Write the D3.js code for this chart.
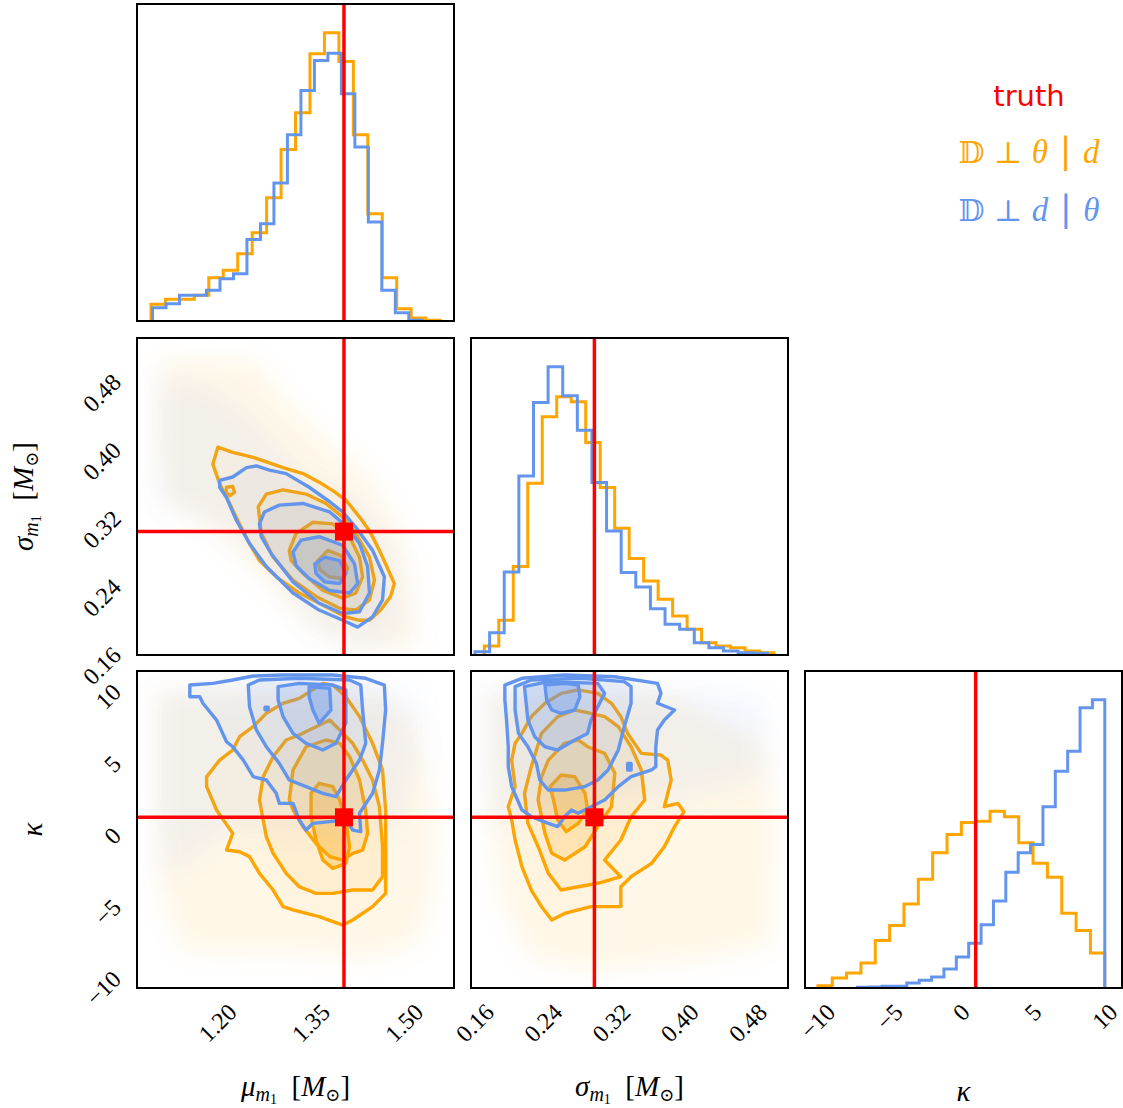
<!DOCTYPE html>
<html>
<head>
<meta charset="utf-8">
<script src="https://cdn.jsdelivr.net/npm/d3@7"></script>
<style>
  body { margin: 0; background: #fff; }
  svg { display: block; }
  text { white-space: pre; }
</style>
</head>
<body>
<svg id="chart" width="1123" height="1108"></svg>
<script>
// colours used by the two runs + truth
var orange = "#ffa500";
var blue = "#6495ed";
var red = "#ff0000";

// axis ranges and ticks
var muDomain = [1.07, 1.58];
var sigmaDomain = [0.1553, 0.527];
var kappaDomain = [-10.9, 11.2];
var muTicks = [1.20, 1.35, 1.50];
var sigmaTicks = [0.16, 0.24, 0.32, 0.40, 0.48];
var kappaTicks = [-10, -5, 0, 5, 10];

var truthMu = 1.403;
var truthSigma = 0.30;
var truthKappa = 1.0;

// 1D histograms (20 bins each, [lo, hi] range per run)
var muRangeOrange = [1.0925, 1.5576];
var muCountsOrange = [50, 65, 65, 77, 130, 152, 202, 265, 370, 515, 625, 802, 865, 779, 559, 322, 130, 37, 9, 2];
var muRangeBlue = [1.095, 1.529];
var muCountsBlue = [40, 52, 77, 77, 92, 127, 142, 245, 292, 414, 559, 692, 782, 804, 682, 522, 297, 92, 25, 2];

var sigmaRangeOrange = [0.1709, 0.5106];
var sigmaCountsOrange = [27, 104, 265, 515, 714, 774, 759, 637, 502, 380, 289, 222, 167, 117, 77, 37, 27, 22, 12, 7];
var sigmaRangeBlue = [0.1600, 0.5028];
var sigmaCountsBlue = [10, 67, 249, 537, 757, 864, 777, 674, 517, 372, 247, 204, 139, 92, 77, 37, 22, 12, 7, 5];

var kappaRangeOrange = [-10, 10];
var kappaCountsOrange = [7, 30, 45, 75, 143, 188, 253, 327, 407, 462, 498, 502, 532, 515, 437, 375, 333, 225, 173, 105];
var kappaRangeBlue = [-7.25, 10];
var kappaCountsBlue = [2, 3, 5, 5, 15, 23, 33, 57, 93, 135, 190, 262, 348, 407, 432, 545, 652, 712, 843, 867];

// 2D panels: contour rings (outer -> inner) and the region covered by scatter points
var muSigmaOrangeLevels = [
  [[1.200,0.399],[1.224,0.393],[1.257,0.387],[1.305,0.375],[1.337,0.368],[1.363,0.358],[1.385,0.348],[1.406,0.337],[1.428,0.317],[1.444,0.301],[1.460,0.278],[1.470,0.262],[1.484,0.239],[1.478,0.224],[1.462,0.208],[1.444,0.196],[1.428,0.196],[1.406,0.200],[1.374,0.212],[1.331,0.228],[1.294,0.247],[1.267,0.266],[1.251,0.286],[1.235,0.309],[1.219,0.333],[1.203,0.356],[1.192,0.379]],
  [[1.214,0.352],[1.224,0.353],[1.227,0.346],[1.219,0.342],[1.213,0.346]],
  [[1.265,0.329],[1.278,0.344],[1.305,0.349],[1.342,0.344],[1.374,0.333],[1.401,0.317],[1.422,0.298],[1.444,0.270],[1.452,0.243],[1.444,0.220],[1.422,0.208],[1.396,0.210],[1.358,0.224],[1.321,0.243],[1.289,0.270],[1.270,0.298]],
  [[1.315,0.278],[1.326,0.298],[1.353,0.311],[1.385,0.309],[1.412,0.294],[1.428,0.270],[1.433,0.247],[1.422,0.228],[1.401,0.222],[1.369,0.231],[1.337,0.251],[1.318,0.266]],
  [[1.361,0.266],[1.377,0.278],[1.398,0.272],[1.409,0.257],[1.401,0.245],[1.380,0.247],[1.364,0.255]]
];
var muSigmaOrangeRank = [0, 1, 1, 2, 3];
var muSigmaBlueLevels = [
  [[1.203,0.360],[1.224,0.364],[1.246,0.375],[1.262,0.377],[1.283,0.372],[1.310,0.368],[1.347,0.352],[1.380,0.335],[1.401,0.323],[1.422,0.305],[1.449,0.278],[1.468,0.247],[1.465,0.220],[1.449,0.200],[1.425,0.188],[1.401,0.196],[1.363,0.208],[1.321,0.228],[1.278,0.259],[1.251,0.286],[1.230,0.313],[1.214,0.340],[1.203,0.352]],
  [[1.267,0.309],[1.275,0.323],[1.299,0.331],[1.337,0.333],[1.380,0.323],[1.406,0.307],[1.428,0.286],[1.441,0.259],[1.444,0.228],[1.428,0.206],[1.401,0.204],[1.363,0.216],[1.321,0.241],[1.286,0.274],[1.270,0.294]],
  [[1.321,0.276],[1.334,0.290],[1.363,0.294],[1.401,0.284],[1.420,0.262],[1.425,0.239],[1.412,0.228],[1.380,0.231],[1.347,0.245],[1.326,0.260]],
  [[1.356,0.262],[1.372,0.270],[1.396,0.266],[1.406,0.251],[1.396,0.239],[1.372,0.241],[1.358,0.251]]
];
var muSigmaBlueRank = [0, 1, 2, 3];
var muSigmaOrangeCloud = [[1.107,0.500],[1.257,0.502],[1.305,0.457],[1.385,0.399],[1.438,0.372],[1.492,0.301],[1.513,0.224],[1.519,0.165],[1.438,0.161],[1.358,0.185],[1.278,0.243],[1.198,0.301],[1.118,0.333],[1.102,0.418]];
var muSigmaBlueCloud = [[1.102,0.477],[1.171,0.477],[1.251,0.438],[1.331,0.372],[1.438,0.333],[1.492,0.262],[1.502,0.185],[1.438,0.161],[1.358,0.185],[1.278,0.262],[1.198,0.309],[1.107,0.333],[1.102,0.418]];

var muKappaOrangeLevels = [
  [[1.182,3.83],[1.203,4.99],[1.224,5.69],[1.235,6.62],[1.257,7.32],[1.278,8.25],[1.305,8.95],[1.331,9.29],[1.369,10.34],[1.385,10.22],[1.406,9.41],[1.428,8.02],[1.449,6.16],[1.465,4.30],[1.470,1.51],[1.470,-1.28],[1.470,-4.30],[1.449,-5.23],[1.417,-6.16],[1.401,-6.51],[1.363,-5.93],[1.321,-5.46],[1.305,-5.23],[1.289,-4.07],[1.267,-2.91],[1.251,-1.74],[1.235,-1.40],[1.214,-1.28],[1.224,-0.12],[1.198,1.51],[1.182,3.14]],
  [[1.267,2.21],[1.273,3.83],[1.289,5.23],[1.310,6.39],[1.331,6.74],[1.358,7.32],[1.380,7.78],[1.396,7.09],[1.417,6.16],[1.433,4.99],[1.449,3.60],[1.460,1.74],[1.465,-1.05],[1.465,-3.14],[1.449,-4.07],[1.417,-4.07],[1.385,-4.30],[1.358,-4.30],[1.331,-3.84],[1.310,-2.91],[1.289,-1.51],[1.278,-0.35],[1.273,0.81]],
  [[1.315,2.21],[1.321,4.30],[1.342,5.92],[1.374,6.39],[1.396,6.16],[1.412,5.23],[1.428,3.60],[1.438,1.51],[1.441,-0.12],[1.433,-1.28],[1.417,-1.51],[1.401,-1.98],[1.380,-1.74],[1.358,-0.82],[1.337,0.35],[1.321,1.51]],
  [[1.350,2.67],[1.363,3.37],[1.385,3.14],[1.396,2.21],[1.406,0.81],[1.412,-1.05],[1.406,-2.21],[1.385,-2.56],[1.369,-1.98],[1.358,-0.58],[1.350,1.04]]
];
var muKappaOrangeRank = [0, 1, 2, 3];
var muKappaBlueLevels = [
  [[1.155,10.22],[1.192,10.34],[1.224,10.57],[1.257,10.85],[1.305,10.92],[1.385,10.92],[1.438,10.69],[1.468,10.22],[1.470,8.48],[1.465,6.16],[1.460,4.30],[1.449,2.67],[1.428,1.28],[1.430,0.00],[1.417,0.11],[1.406,0.81],[1.380,0.70],[1.353,0.58],[1.342,0.11],[1.331,0.81],[1.321,1.97],[1.299,1.97],[1.294,2.67],[1.278,3.60],[1.257,3.83],[1.241,4.99],[1.224,5.92],[1.214,6.27],[1.198,7.78],[1.176,8.95],[1.171,9.41],[1.155,9.41]],
  [[1.249,10.22],[1.267,10.57],[1.331,10.69],[1.412,10.57],[1.430,10.22],[1.433,8.48],[1.438,6.16],[1.428,4.99],[1.406,3.60],[1.390,2.44],[1.369,2.67],[1.342,3.14],[1.315,3.60],[1.299,4.76],[1.278,5.92],[1.262,7.09],[1.251,8.71]],
  [[1.297,10.11],[1.331,10.34],[1.385,10.22],[1.406,9.88],[1.406,7.55],[1.390,6.16],[1.369,5.69],[1.342,6.16],[1.321,6.85],[1.305,8.02],[1.297,9.18]],
  [[1.347,10.11],[1.380,9.99],[1.382,8.48],[1.363,7.55],[1.353,8.48],[1.347,9.41]],
  [[1.276,8.68],[1.281,8.68],[1.281,8.50],[1.276,8.50]]
];
var muKappaBlueRank = [0, 1, 2, 3, 2];
var muKappaOrangeCloud = [[1.102,9.64],[1.224,9.88],[1.331,9.88],[1.465,9.64],[1.519,7.32],[1.551,0.35],[1.545,-4.77],[1.519,-7.79],[1.438,-8.95],[1.331,-8.48],[1.224,-8.48],[1.144,-8.25],[1.107,-4.30],[1.102,2.67]];
var muKappaBlueCloud = [[1.102,9.88],[1.519,9.64],[1.524,4.99],[1.492,0.35],[1.412,-0.12],[1.224,0.35],[1.118,-3.14],[1.102,0.35]];

var sigmaKappaOrangeLevels = [
  [[0.199,1.74],[0.207,3.14],[0.203,4.99],[0.207,6.16],[0.215,6.85],[0.226,8.02],[0.242,8.95],[0.261,9.64],[0.281,9.88],[0.304,9.64],[0.320,8.95],[0.331,8.02],[0.339,6.85],[0.355,5.46],[0.378,5.34],[0.386,4.99],[0.390,3.60],[0.382,1.74],[0.398,1.97],[0.405,1.39],[0.394,0.35],[0.382,-1.05],[0.367,-2.21],[0.343,-3.14],[0.331,-3.84],[0.331,-5.23],[0.296,-5.23],[0.265,-5.70],[0.250,-6.16],[0.238,-5.23],[0.226,-4.07],[0.215,-2.44],[0.207,-0.58],[0.203,0.81]],
  [[0.218,2.67],[0.226,4.53],[0.238,6.85],[0.257,8.02],[0.277,8.48],[0.296,8.25],[0.312,8.02],[0.328,7.32],[0.343,5.92],[0.355,4.30],[0.359,2.21],[0.343,1.04],[0.331,-0.58],[0.312,-1.98],[0.331,-3.14],[0.304,-3.60],[0.281,-3.84],[0.261,-4.07],[0.246,-2.91],[0.234,-1.05],[0.222,0.58]],
  [[0.234,2.21],[0.238,3.83],[0.246,4.99],[0.265,6.16],[0.281,6.39],[0.292,5.92],[0.312,5.46],[0.324,4.07],[0.320,1.74],[0.304,0.35],[0.289,-1.05],[0.265,-1.98],[0.250,-1.51],[0.242,-0.12],[0.238,1.04]],
  [[0.248,3.14],[0.261,3.95],[0.277,3.83],[0.289,2.67],[0.292,1.51],[0.281,0.58],[0.267,0.00],[0.257,0.81],[0.252,2.21]]
];
var sigmaKappaOrangeRank = [0, 1, 2, 3];
var sigmaKappaBlueLevels = [
  [[0.195,10.22],[0.215,10.69],[0.265,10.92],[0.324,10.80],[0.374,10.34],[0.378,9.64],[0.374,8.95],[0.394,8.48],[0.382,7.78],[0.374,7.09],[0.372,5.92],[0.372,4.53],[0.367,4.30],[0.343,3.83],[0.328,3.14],[0.312,2.21],[0.296,1.74],[0.281,1.28],[0.273,1.51],[0.265,1.04],[0.257,0.35],[0.246,0.58],[0.226,1.04],[0.215,1.51],[0.203,3.14],[0.199,4.53],[0.199,5.92],[0.197,7.78],[0.195,9.18]],
  [[0.207,10.11],[0.226,10.57],[0.285,10.69],[0.335,10.46],[0.343,10.11],[0.343,8.95],[0.335,7.32],[0.328,5.69],[0.316,4.30],[0.304,3.60],[0.289,3.14],[0.265,2.90],[0.246,2.90],[0.236,3.60],[0.232,4.76],[0.222,5.92],[0.211,6.85],[0.207,8.48]],
  [[0.218,10.11],[0.246,10.46],[0.304,10.34],[0.312,9.64],[0.304,8.71],[0.296,7.78],[0.292,6.85],[0.277,6.39],[0.257,5.69],[0.242,5.92],[0.230,6.62],[0.222,7.78],[0.220,8.95]],
  [[0.242,10.22],[0.265,10.34],[0.281,10.22],[0.283,9.41],[0.277,8.48],[0.261,8.25],[0.250,8.48],[0.244,9.18]],
  [[0.339,4.75],[0.343,4.75],[0.343,4.30],[0.339,4.30]]
];
var sigmaKappaBlueRank = [0, 1, 2, 3, 1];
var sigmaKappaOrangeCloud = [[0.176,9.64],[0.382,9.64],[0.499,6.16],[0.511,0.35],[0.507,-7.79],[0.421,-8.95],[0.304,-9.65],[0.226,-8.95],[0.187,-4.30],[0.176,2.67]];
var sigmaKappaBlueCloud = [[0.172,10.11],[0.421,9.88],[0.499,9.18],[0.499,3.83],[0.421,2.67],[0.265,1.51],[0.187,0.35],[0.172,4.99]];

// ---- layout ----
var P = 317;
var colX = [137, 471, 805];
var rowY = [4, 338, 671];
var levelAlpha = [0.03, 0.07, 0.14, 0.26];

var svg = d3.select("#chart");
var defs = svg.append("defs");
defs.append("filter").attr("id", "cloudBlur")
    .attr("x", "-30%").attr("y", "-30%").attr("width", "160%").attr("height", "160%")
  .append("feGaussianBlur").attr("stdDeviation", 12);

function xScale(col, dom) { return d3.scaleLinear().domain(dom).range([colX[col], colX[col] + P]); }
function yScale(row, dom) { return d3.scaleLinear().domain(dom).range([rowY[row] + P, rowY[row]]); }

function panelGroup(col, row) {
  var id = "clip-" + col + "-" + row;
  defs.append("clipPath").attr("id", id)
    .append("rect").attr("x", colX[col]).attr("y", rowY[row]).attr("width", P).attr("height", P);
  return svg.append("g").attr("clip-path", "url(#" + id + ")");
}

function frame(col, row) {
  svg.append("rect").attr("x", colX[col]).attr("y", rowY[row]).attr("width", P).attr("height", P)
    .attr("fill", "none").attr("stroke", "#000").attr("stroke-width", 2);
}

function drawHist(col, row, dom, series, truthVal) {
  var x = xScale(col, dom);
  var maxC = d3.max(series, function(s) { return d3.max(s.counts); });
  var y = d3.scaleLinear().domain([0, 1.1 * maxC]).range([rowY[row] + P, rowY[row]]);
  var g = panelGroup(col, row);
  var line = d3.line().x(function(d) { return x(d[0]); }).y(function(d) { return y(d[1]); });
  series.forEach(function(s) {
    var n = s.counts.length;
    var edges = d3.range(n + 1).map(function(i) { return s.range[0] + i * (s.range[1] - s.range[0]) / n; });
    var pts = [[edges[0], 0]];
    s.counts.forEach(function(c, i) { pts.push([edges[i], c]); pts.push([edges[i + 1], c]); });
    pts.push([edges[n], 0]);
    g.append("path").attr("d", line(pts)).attr("fill", "none")
      .attr("stroke", s.color).attr("stroke-width", 3).attr("stroke-linejoin", "miter");
  });
  g.append("line").attr("x1", x(truthVal)).attr("x2", x(truthVal))
    .attr("y1", rowY[row]).attr("y2", rowY[row] + P)
    .attr("stroke", red).attr("stroke-width", 3.5);
  frame(col, row);
}

function draw2D(col, row, xdom, ydom, layers, tx, ty) {
  var x = xScale(col, xdom), y = yScale(row, ydom);
  var g = panelGroup(col, row);
  var ring = d3.line().x(function(d) { return x(d[0]); }).y(function(d) { return y(d[1]); }).curve(d3.curveLinearClosed);
  layers.forEach(function(L) {
    g.append("path").attr("d", ring(L.cloud)).attr("fill", L.color)
      .attr("fill-opacity", L.cloudOpacity).attr("filter", "url(#cloudBlur)");
    L.levels.forEach(function(r, i) {
      g.append("path").attr("d", ring(r)).attr("fill", L.color).attr("fill-opacity", levelAlpha[L.rank[i]] * L.gain);
    });
    L.levels.forEach(function(r) {
      g.append("path").attr("d", ring(r)).attr("fill", "none")
        .attr("stroke", L.color).attr("stroke-width", 3.4).attr("stroke-linejoin", "round");
    });
  });
  g.append("line").attr("x1", x(tx)).attr("x2", x(tx)).attr("y1", rowY[row]).attr("y2", rowY[row] + P)
    .attr("stroke", red).attr("stroke-width", 3.5);
  g.append("line").attr("x1", colX[col]).attr("x2", colX[col] + P).attr("y1", y(ty)).attr("y2", y(ty))
    .attr("stroke", red).attr("stroke-width", 3.5);
  g.append("rect").attr("x", x(tx) - 9).attr("y", y(ty) - 9).attr("width", 18).attr("height", 18).attr("fill", red);
  frame(col, row);
}

// ---- histograms on the diagonal ----
drawHist(0, 0, muDomain, [
  { counts: muCountsOrange, range: muRangeOrange, color: orange },
  { counts: muCountsBlue, range: muRangeBlue, color: blue }
], truthMu);
drawHist(1, 1, sigmaDomain, [
  { counts: sigmaCountsOrange, range: sigmaRangeOrange, color: orange },
  { counts: sigmaCountsBlue, range: sigmaRangeBlue, color: blue }
], truthSigma);
drawHist(2, 2, kappaDomain, [
  { counts: kappaCountsOrange, range: kappaRangeOrange, color: orange },
  { counts: kappaCountsBlue, range: kappaRangeBlue, color: blue }
], truthKappa);

// ---- 2D panels ----
function layersFor(oLevels, oRank, oCloud, bLevels, bRank, bCloud) {
  return [
    { color: orange, levels: oLevels, rank: oRank, cloud: oCloud, gain: 1.0, cloudOpacity: 0.09 },
    { color: blue, levels: bLevels, rank: bRank, cloud: bCloud, gain: 1.3, cloudOpacity: 0.08 }
  ];
}
draw2D(0, 1, muDomain, sigmaDomain, layersFor(muSigmaOrangeLevels, muSigmaOrangeRank, muSigmaOrangeCloud, muSigmaBlueLevels, muSigmaBlueRank, muSigmaBlueCloud), truthMu, truthSigma);
draw2D(0, 2, muDomain, kappaDomain, layersFor(muKappaOrangeLevels, muKappaOrangeRank, muKappaOrangeCloud, muKappaBlueLevels, muKappaBlueRank, muKappaBlueCloud), truthMu, truthKappa);
draw2D(1, 2, sigmaDomain, kappaDomain, layersFor(sigmaKappaOrangeLevels, sigmaKappaOrangeRank, sigmaKappaOrangeCloud, sigmaKappaBlueLevels, sigmaKappaBlueRank, sigmaKappaBlueCloud), truthSigma, truthKappa);

// ---- tick labels (rotated 45 deg, like corner) ----
var tickFont = "'Liberation Serif', 'DejaVu Serif', serif";
var tickSize = 24;
function fmtTick(v, digits) {
  var s = digits ? v.toFixed(digits) : String(v);
  return s.replace("-", "\u2212");
}

function xTickLabels(col, dom, ticks, digits) {
  var x = xScale(col, dom);
  var top = rowY[2] + P + 14;
  ticks.forEach(function(t) {
    var txt = svg.append("text").attr("text-anchor", "middle").attr("dominant-baseline", "central")
      .style("font-family", tickFont).style("font-size", tickSize + "px").text(fmtTick(t, digits));
    var w = txt.node().getBBox().width, h = tickSize * 0.72;
    var half = (w + h) * Math.SQRT1_2 / 2;
    txt.attr("transform", "translate(" + x(t) + "," + (top + half) + ") rotate(-45)");
  });
}
function yTickLabels(row, dom, ticks, digits) {
  var y = yScale(row, dom);
  var right = colX[0] - 14;
  ticks.forEach(function(t) {
    var txt = svg.append("text").attr("text-anchor", "middle").attr("dominant-baseline", "central")
      .style("font-family", tickFont).style("font-size", tickSize + "px").text(fmtTick(t, digits));
    var w = txt.node().getBBox().width, h = tickSize * 0.72;
    var half = (w + h) * Math.SQRT1_2 / 2;
    txt.attr("transform", "translate(" + (right - half) + "," + (y(t) + w * 0.354) + ") rotate(-45)");
  });
}
xTickLabels(0, muDomain, muTicks, 2);
xTickLabels(1, sigmaDomain, sigmaTicks, 2);
xTickLabels(2, kappaDomain, kappaTicks, 0);
yTickLabels(1, sigmaDomain, sigmaTicks, 2);
yTickLabels(2, kappaDomain, kappaTicks, 0);

// ---- axis titles ----
var mathFont = "'Liberation Serif', 'DejaVu Serif', serif";
function mathLabel(parts, x, y, rot) {
  var t = svg.append("text").attr("text-anchor", "middle")
    .style("font-family", mathFont).style("font-size", "29px").attr("fill", "#000");
  if (rot) t.attr("transform", "translate(" + x + "," + y + ") rotate(-90)");
  else t.attr("transform", "translate(" + x + "," + y + ")");
  parts.forEach(function(p) {
    var s = t.append("tspan").text(p.t);
    if (p.i) s.style("font-style", "italic");
    if (p.s) s.style("font-size", p.s + "px");
    if (p.dy) s.attr("dy", p.dy);
  });
}
function massLabel(sym) {
  return [
    { t: sym, i: true },
    { t: "m", i: true, s: 20, dy: 5 },
    { t: "1", s: 14, dy: 3 },
    { t: "  [", dy: -8 },
    { t: "M", i: true },
    { t: "\u2299", s: 18, dy: 5 },
    { t: "]", dy: -5 }
  ];
}
mathLabel(massLabel("\u03bc"), colX[0] + P / 2, 1096, false);
mathLabel(massLabel("\u03c3"), colX[1] + P / 2, 1096, false);
mathLabel([{ t: "\u03ba", i: true }], colX[2] + P / 2, 1101, false);
mathLabel(massLabel("\u03c3"), 33, rowY[1] + P / 2, true);
mathLabel([{ t: "\u03ba", i: true }], 42, rowY[2] + P / 2, true);

// ---- legend ----
var legX = 1029;
svg.append("text").attr("x", legX).attr("y", 106).attr("text-anchor", "middle")
  .style("font-family", "'DejaVu Sans', sans-serif").style("font-size", "29px")
  .attr("fill", red).text("truth");
function legendLine(y, color, a, b) {
  var t = svg.append("text").attr("x", legX).attr("y", y).attr("text-anchor", "middle")
    .style("font-family", "'DejaVu Serif', serif").style("font-size", "30px").attr("fill", color);
  t.append("tspan").text("\ud835\udd3b \u22a5 ");
  t.append("tspan").style("font-style", "italic").style("font-family", "'Liberation Serif', serif").style("font-size", "33px").text(a);
  t.append("tspan").style("font-size", "36px").text(" | ");
  t.append("tspan").style("font-style", "italic").style("font-family", "'Liberation Serif', serif").style("font-size", "33px").text(b);
}
legendLine(163, orange, "\u03b8", "d");
legendLine(221, blue, "d", "\u03b8");
</script>
</body>
</html>
